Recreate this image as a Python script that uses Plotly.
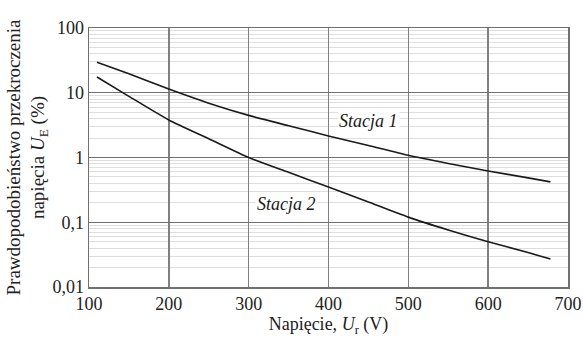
import math
import plotly.graph_objects as go

x1 = [110, 150, 200, 250, 300, 350, 400, 450, 500, 550, 600, 650, 678]
stacja1 = [29.6, 19.6, 11.4, 6.9, 4.47, 3.1, 2.15, 1.53, 1.08, 0.81, 0.62, 0.485, 0.42]
x2 = [110, 150, 200, 250, 300, 350, 400, 450, 500, 550, 600, 650, 678]
stacja2 = [17.5, 8.8, 3.8, 1.95, 1.0, 0.59, 0.35, 0.205, 0.12, 0.076, 0.05, 0.034, 0.027]

xticks = [100, 200, 300, 400, 500, 600, 700]
yticks = [0.01, 0.1, 1, 10, 100]
yticklabels = ["0,01", "0,1", "1", "10", "100"]

font = "Liberation Serif, Times New Roman, serif"
line = dict(color="#1a1a1a", width=1.6)

fig = go.Figure()
fig.add_trace(go.Scatter(x=x1, y=stacja1, mode="lines", line=dict(**line, shape="spline", smoothing=0.6),
                         showlegend=False, hoverinfo="skip"))
fig.add_trace(go.Scatter(x=x2, y=stacja2, mode="lines", line=dict(**line, shape="spline", smoothing=0.6),
                         showlegend=False, hoverinfo="skip"))

fig.add_annotation(x=450, y=math.log10(3.66), text="<i>Stacja 1</i>", showarrow=False,
                   bgcolor="white", font=dict(family=font, size=18, color="#1a1a1a"))
fig.add_annotation(x=348, y=math.log10(0.19), text="<i>Stacja 2</i>", showarrow=False,
                   bgcolor="white", font=dict(family=font, size=18, color="#1a1a1a"))

fig.update_layout(
    width=583, height=338,
    margin=dict(l=89, r=15, t=28, b=51),
    paper_bgcolor="white", plot_bgcolor="white",
    font=dict(family=font, size=18, color="#222"),
    xaxis=dict(range=[100, 700], tickvals=xticks, ticks="", showgrid=True, automargin=False,
               gridcolor="#808080", gridwidth=1.4, showline=True, linecolor="#707070", linewidth=1.5,
               mirror=True, zeroline=False,
               title=dict(text="Napięcie, <i>U</i><sub>r</sub> (V)", standoff=0, font=dict(size=18))),
    yaxis=dict(type="log", range=[-2, 2], tickvals=yticks, ticktext=yticklabels, ticks="",
               automargin=False,
               showgrid=True, gridcolor="#707070", gridwidth=1.4, showline=True, linecolor="#707070",
               linewidth=1.5, mirror=True, zeroline=False,
               minor=dict(dtick="D1", showgrid=True, gridcolor="#dedede", gridwidth=1, ticks=""),
               title=dict(text="Prawdopodobieństwo przekroczenia<br>napięcia <i>U</i><sub>E</sub> (%)",
                          standoff=2, font=dict(size=19))),
)

fig.write_html("out.html", config={"displayModeBar": False, "staticPlot": True},
               post_script="document.body.style.margin='0';document.body.style.overflow='hidden';")
